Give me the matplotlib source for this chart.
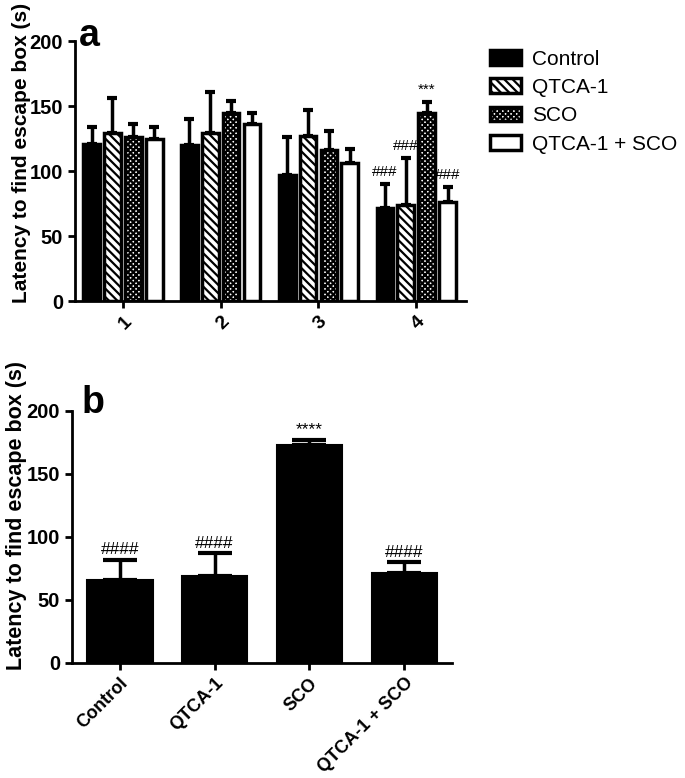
import numpy as np
import matplotlib
matplotlib.use("Agg")
import matplotlib.pyplot as plt

plt.rcParams['font.family'] = ['Liberation Sans', 'DejaVu Sans']
plt.rcParams['hatch.linewidth'] = 1.6

# panel a data
days = ['1', '2', '3', '4']
groups = ['Control', 'QTCA-1', 'SCO', 'QTCA-1 + SCO']
ctrl_mean = [121, 120, 97, 72]
ctrl_err = [13, 20, 29, 18]
qtca_mean = [129, 129, 127, 74]
qtca_err = [27, 32, 20, 36]
sco_mean = [126, 145, 116, 145]
sco_err = [10, 9, 15, 8]
comb_mean = [125, 136, 106, 76]
comb_err = [9, 9, 11, 12]
marks_a = ['', '', '', '###']
marks_a_q = ['', '', '', '###']
marks_a_s = ['', '', '', '***']
marks_a_c = ['', '', '', '###']

# panel b data
b_labels = ['Control', 'QTCA-1', 'SCO', 'QTCA-1 + SCO']
b_mean = [66, 69, 173, 71]
b_err = [16, 18, 4, 9]
b_marks = ['####', '####', '****', '####']

fig = plt.figure(figsize=(6.85, 7.78), dpi=100)

def style(ax, xsize):
    for s in ['top', 'right']:
        ax.spines[s].set_visible(False)
    for s in ['left', 'bottom']:
        ax.spines[s].set_linewidth(2)
    ax.tick_params(width=2, length=5)
    ax.tick_params(axis='y', labelsize=14.5)
    ax.tick_params(axis='x', labelsize=xsize)
    for lab in ax.get_yticklabels() + ax.get_xticklabels():
        lab.set_fontweight('bold')

# ---- a ----
ax1 = fig.add_axes([0.1095, 0.613, 0.571, 0.334])
x = np.arange(len(days))
w = 0.17
offs = [-0.32, -0.107, 0.107, 0.32]
series = [(ctrl_mean, ctrl_err, 'black', '', marks_a),
          (qtca_mean, qtca_err, 'white', '\\\\\\\\', marks_a_q),
          (sco_mean, sco_err, 'white', 'xxxxxx', marks_a_s),
          (comb_mean, comb_err, 'white', '', marks_a_c)]
for i, (m, e, fc, h, mk) in enumerate(series):
    xs = x + offs[i]
    ax1.bar(xs, m, w, color=fc, edgecolor='black', linewidth=2.5, hatch=h,
            label=groups[i], zorder=3)
    ax1.errorbar(xs, m, yerr=[np.zeros(len(e)), e], fmt='none', ecolor='black',
                 elinewidth=2.5, capsize=3.5, capthick=3, zorder=2)
    for xi, mi, ei, t in zip(xs, m, e, mk):
        if t:
            ax1.text(xi, mi + ei + 4, t, ha='center', va='bottom', fontsize=11)
ax1.set_xlim(-0.49, 3.51)
ax1.set_ylim(0, 200)
ax1.set_yticks([0, 50, 100, 150, 200])
ax1.set_xticks(x)
ax1.set_xticklabels(days, rotation=45, ha='right', rotation_mode='anchor')
ax1.set_ylabel('Latency to find escape box (s)', fontsize=15, fontweight='bold')
ax1.yaxis.set_label_coords(-0.113, 0.571)
style(ax1, 14)
ax1.text(0.01, 1.02, 'a', transform=ax1.transAxes, fontsize=27, fontweight='bold',
         va='center')
leg = ax1.legend(loc='upper left', bbox_to_anchor=(1.012, 1.04), frameon=False,
                 fontsize=15, handlelength=1.5, handleheight=0.7, labelspacing=0.45,
                 handletextpad=0.55)

# ---- b ----
ax2 = fig.add_axes([0.105, 0.148, 0.555, 0.324])
xb = np.arange(len(b_labels))
ax2.bar(xb, b_mean, 0.69, color='black', edgecolor='black', linewidth=1.5, zorder=3)
ax2.errorbar(xb, b_mean, yerr=[np.zeros(len(b_err)), b_err], fmt='none',
             ecolor='black', elinewidth=2.5, capsize=12, capthick=3, zorder=2)
for xi, mi, ei, t in zip(xb, b_mean, b_err, b_marks):
    ax2.text(xi, mi + ei + 2, t, ha='center', va='bottom', fontsize=12.5)
ax2.set_xlim(-0.505, 3.505)
ax2.set_ylim(0, 200)
ax2.set_yticks([0, 50, 100, 150, 200])
ax2.set_xticks(xb)
ax2.set_xticklabels(b_labels, rotation=45, ha='right', rotation_mode='anchor')
ax2.set_ylabel('Latency to find escape box (s)', fontsize=15.5, fontweight='bold')
ax2.yaxis.set_label_coords(-0.118, 0.583)
style(ax2, 13)
ax2.text(0.025, 1.03, 'b', transform=ax2.transAxes, fontsize=27, fontweight='bold',
         va='center')

fig.savefig('out.png', dpi=100)
